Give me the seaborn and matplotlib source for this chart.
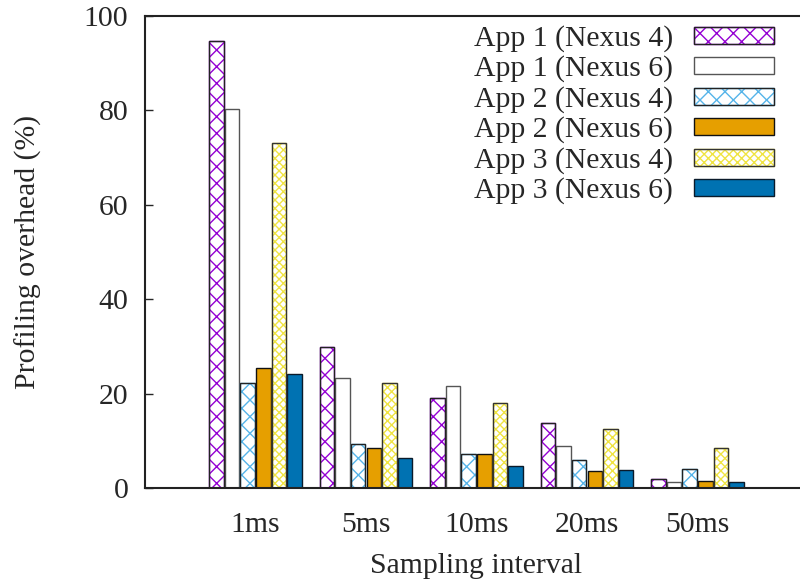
import pandas as pd
import matplotlib
matplotlib.use("Agg")
import matplotlib.pyplot as plt
import seaborn as sns
from matplotlib.patches import Patch, Rectangle

# categories on the x axis
INTERVALS = ["1ms", "5ms", "10ms", "20ms", "50ms"]

# overhead values (%) per series
app1_n4 = [94.8, 29.8, 19.1, 13.7, 1.9]
app1_n6 = [80.2, 23.3, 21.7, 8.9, 1.2]
app2_n4 = [22.3, 9.3, 7.1, 5.9, 4.1]
app2_n6 = [25.4, 8.5, 7.3, 3.5, 1.4]
app3_n4 = [73.0, 22.3, 18.1, 12.4, 8.5]
app3_n6 = [24.1, 6.4, 4.6, 3.8, 1.3]

SERIES = ["App 1 (Nexus 4)", "App 1 (Nexus 6)", "App 2 (Nexus 4)",
          "App 2 (Nexus 6)", "App 3 (Nexus 4)", "App 3 (Nexus 6)"]
VALUES = [app1_n4, app1_n6, app2_n4, app2_n6, app3_n4, app3_n6]

# style per series: face, hatch colour, hatch, outline
STYLES = [
    ("white", "#9400D3", "xx", "#222222"),
    ("white", None, "", "#555555"),
    ("white", "#56B4E9", "xx", "#222222"),
    ("#E69F00", None, "", "#111111"),
    ("white", "#F0E442", "xxxx", "#333333"),
    ("#0072B2", None, "", "#0a1a2a"),
]

FS = 21.4


def main():
    rows = []
    for name, vals in zip(SERIES, VALUES):
        for iv, v in zip(INTERVALS, vals):
            rows.append({"interval": iv, "series": name, "value": v})
    df = pd.DataFrame(rows)

    sns.set_style("ticks")
    plt.rcParams["font.family"] = ["Liberation Serif", "DejaVu Serif"]
    plt.rcParams["hatch.linewidth"] = 1.0

    fig = plt.figure(figsize=(8, 5.81), dpi=100)
    ax = fig.add_axes([145 / 800, 1 - 488 / 581, 663 / 800, (488 - 16) / 581])

    sns.barplot(data=df, x="interval", y="value", hue="series",
                hue_order=SERIES, order=INTERVALS, palette=["white"] * 6,
                width=0.85, gap=0.08, legend=False, ax=ax)

    handles = []
    for cont, (face, hcol, hatch, edge) in zip(ax.containers, STYLES):
        for p in cont.patches:
            p.set_facecolor(face)
            p.set_linewidth(1.0)
            if hatch:
                p.set_edgecolor(hcol)
                p.set_hatch(hatch)
                ax.add_patch(Rectangle((p.get_x(), p.get_y()), p.get_width(),
                                       p.get_height(), fill=False,
                                       edgecolor=edge, linewidth=1.0))
            else:
                p.set_edgecolor(edge)
        if hatch:
            handles.append((Patch(facecolor=face, edgecolor=hcol, hatch=hatch, linewidth=1.0),
                            Patch(fill=False, edgecolor=edge, linewidth=1.0)))
        else:
            handles.append(Patch(facecolor=face, edgecolor=edge, linewidth=1.0))

    ax.set_xlim(-1, 5)
    ax.set_ylim(0, 100)
    ax.set_yticks([0, 20, 40, 60, 80, 100])
    ax.tick_params(axis="y", direction="in", length=6, width=1, labelsize=FS,
                   pad=12, right=True)
    ax.tick_params(axis="x", length=0, labelsize=FS, pad=17)
    for s in ax.spines.values():
        s.set_linewidth(1.5)
        s.set_color("#222222")

    ax.set_xlabel("Sampling interval", fontsize=FS, labelpad=11)
    ax.set_ylabel("Profiling overhead (%)", fontsize=FS, labelpad=30)

    fig.legend(handles, SERIES, loc="upper right",
               bbox_to_anchor=(774 / 800, 1 - 25 / 581), frameon=False,
               markerfirst=False, fontsize=FS, handlelength=2.7,
               handleheight=0.5, handletextpad=0.7, labelspacing=0.12,
               borderpad=0, borderaxespad=0)

    fig.savefig("out.png", dpi=100)


if __name__ == "__main__":
    main()
